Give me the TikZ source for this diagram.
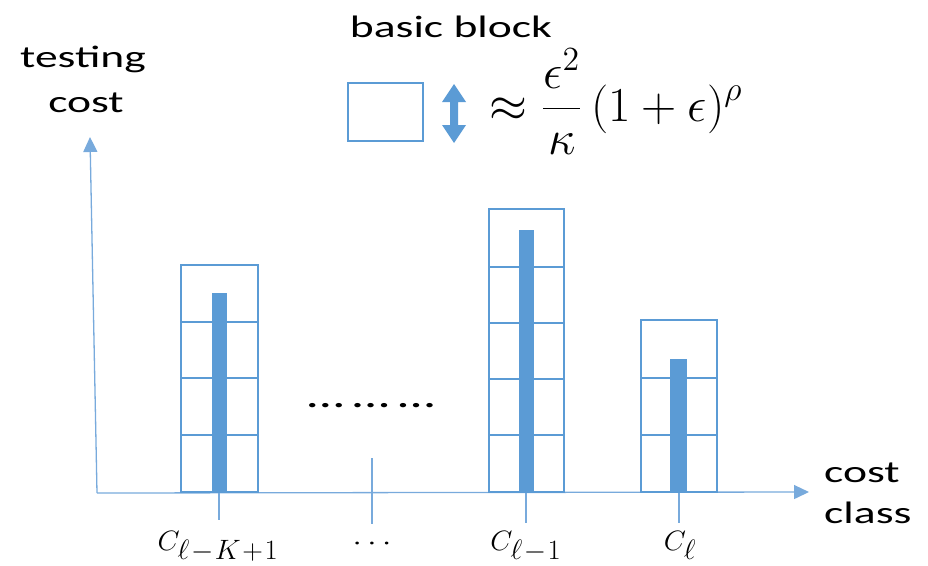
\documentclass[tikz,border=0pt]{standalone}
\usepackage{fontspec}
\setmainfont{Carlito}
\usetikzlibrary{arrows.meta}
\definecolor{cblue}{RGB}{91,155,213}
\definecolor{axblue}{RGB}{120,170,220}
\newcommand{\wideText}[1]{\scalebox{1.47}[1]{#1}}
\begin{document}
\begin{tikzpicture}[x=1pt,y=-1pt,
  cell/.style={draw=cblue, line width=2.3pt},
  fillbar/.style={fill=cblue},
  axis/.style={draw=axblue, line width=1.3pt, -{Triangle[length=15pt,width=14pt]}},
  tickline/.style={draw=axblue, line width=1.1pt},
  lbl/.style={font=\fontsize{31}{36}\selectfont, inner sep=0pt},
  mlbl/.style={font=\fontsize{20}{24}\selectfont, inner sep=0pt}]
\useasboundingbox (0,0) rectangle (928,565);
% axes
\coordinate (O) at (97,493);
\coordinate (ytop) at (90,137);
\coordinate (xend) at (809,492);
\draw[axis] (O) -- (ytop);
\draw[axis] (O) -- (xend);
% axis labels
\node[lbl, anchor=base] (ylab1) at (83,67) {\wideText{testing}};
\node[lbl, anchor=base] (ylab2) at (86,112) {\wideText{cost}};
\node[lbl, anchor=base west] (xlab1) at (824,482) {\wideText{cost}};
\node[lbl, anchor=base west] (xlab2) at (824,523) {\wideText{class}};
% legend
\node[lbl, anchor=base] (bb) at (451,37) {\wideText{basic block}};
\draw[cell] (348,83) rectangle (423,141);
\fill[cblue] (454,84) -- (466,102) -- (458,102) -- (458,125) -- (466,125) -- (454,143)
  -- (442,125) -- (450,125) -- (450,102) -- (442,102) -- cycle;
\node[font=\fontsize{20}{24}\selectfont, anchor=base west, inner sep=0pt] (formula) at (489,121)
  {\scalebox{2.35}[2.35]{$\approx \displaystyle\frac{\epsilon^2}{\kappa}\,(1+\epsilon)^{\rho}$}};
% bar 1
\draw[tickline] (219,492) -- (219,520);
\fill[fillbar] (212,293) rectangle (227,492);
\draw[cell] (181,265) rectangle (258,492);
\foreach \y in {322,378,435} \draw[cell] (181,\y) -- (258,\y);
% middle
\draw[tickline] (372,458) -- (372,524);
\node[font=\fontsize{36}{42}\selectfont, inner sep=0pt, anchor=base] (dots) at (371,407)
  {\wideText{…\hspace{6pt}…\hspace{6pt}…}};
% bar 2
\draw[tickline] (526,492) -- (526,523);
\fill[fillbar] (519,230) rectangle (534,492);
\draw[cell] (489,209) rectangle (564,492);
\foreach \y in {267,323,379,435} \draw[cell] (489,\y) -- (564,\y);
% bar 3
\draw[tickline] (679,492) -- (679,523);
\fill[fillbar] (670,359) rectangle (687,492);
\draw[cell] (641,320) rectangle (717,492);
\foreach \y in {378,435} \draw[cell] (641,\y) -- (717,\y);
% category labels
\node[mlbl, anchor=base] (c1) at (218,550) {\scalebox{1.38}[1.35]{$C_{\textstyle\ell\!-\!K\!+\!1}$}};
\node[mlbl, anchor=base] (c2) at (372,550) {\scalebox{1.6}[1.35]{$\cdots$}};
\node[mlbl, anchor=base] (c3) at (526,550) {\scalebox{1.38}[1.35]{$C_{\textstyle\ell\!-\!1}$}};
\node[mlbl, anchor=base] (c4) at (680,550) {\scalebox{1.38}[1.35]{$C_{\textstyle\ell}$}};
\end{tikzpicture}
\end{document}
